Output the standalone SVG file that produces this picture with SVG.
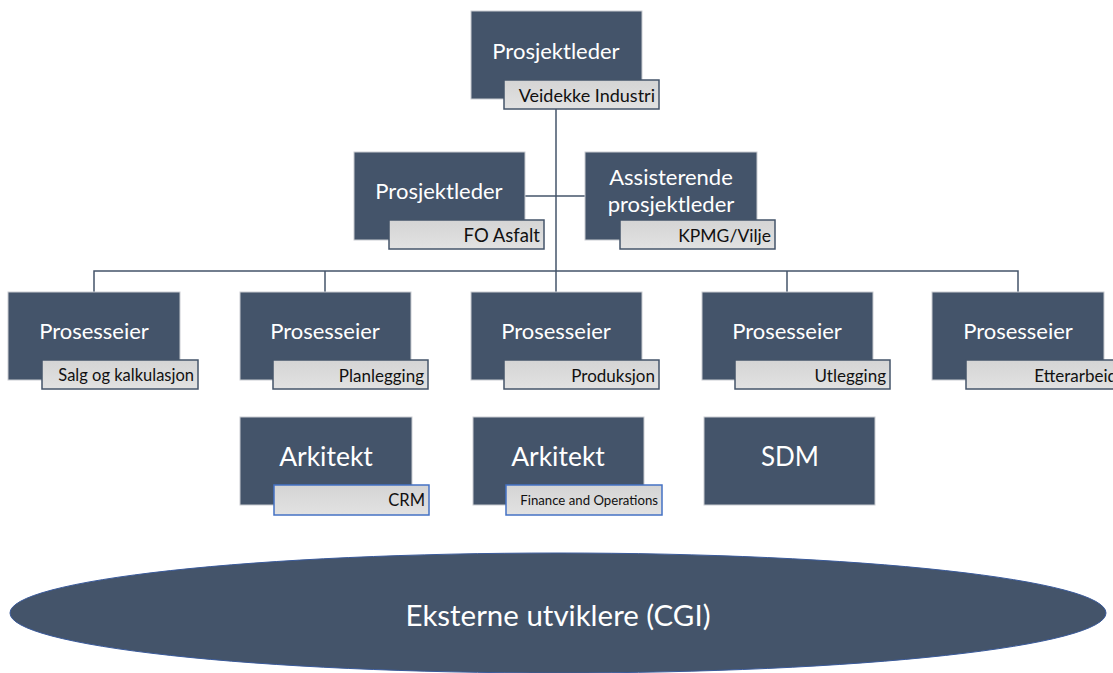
<svg xmlns="http://www.w3.org/2000/svg" width="1113" height="673" viewBox="0 0 1113 673">
<defs>
<linearGradient id="lg" x1="0" y1="0" x2="0" y2="1">
<stop offset="0" stop-color="#d4d4d4"/>
<stop offset="1" stop-color="#e2e2e2"/>
</linearGradient>
</defs>
<style>
.box{fill:#44546a;stroke:#c9ccd1;stroke-width:1}
.lab{fill:url(#lg);stroke:#44546a;stroke-width:1.5}
.labb{fill:url(#lg);stroke:#4472c4;stroke-width:1.5}
.t{font-family:Lato,"Open Sans",sans-serif;fill:#ffffff;text-anchor:middle;dominant-baseline:central}
.l{font-family:Lato,"Open Sans",sans-serif;fill:#111111;text-anchor:end;dominant-baseline:central}
.c{fill:none;stroke:#44546a;stroke-width:1.5}
</style>
<rect width="1113" height="673" fill="#ffffff"/>
<g id="connectors">
<path class="c" d="M556 109 V271"/>
<path class="c" d="M525 196 H585"/>
<path class="c" d="M94 292 V271 H1018 V292"/>
<path class="c" d="M325 271 V292"/>
<path class="c" d="M556 271 V292"/>
<path class="c" d="M787 271 V292"/>
</g>
<g id="n-top">
<rect class="box" x="471" y="11" width="171" height="88"/>
<text class="t" x="556" y="50" font-size="22">Prosjektleder</text>
<rect class="lab" x="504" y="80" width="155" height="29"/>
<text class="l" x="655" y="95" font-size="18">Veidekke Industri</text>
</g>
<g id="n-fo">
<rect class="box" x="354" y="152" width="171" height="88"/>
<text class="t" x="439" y="190" font-size="22">Prosjektleder</text>
<rect class="lab" x="389" y="220" width="155" height="29"/>
<text class="l" x="540" y="235" font-size="18.5">FO Asfalt</text>
</g>
<g id="n-ass">
<rect class="box" x="585" y="152" width="172" height="88"/>
<text class="t" x="671" y="176" font-size="22">Assisterende</text>
<text class="t" x="671" y="203" font-size="22">prosjektleder</text>
<rect class="lab" x="620" y="220" width="155" height="29"/>
<text class="l" x="771" y="235" font-size="17.5">KPMG/Vilje</text>
</g>
<g id="n-p1">
<rect class="box" x="8" y="292" width="172" height="88"/>
<text class="t" x="94" y="330" font-size="22">Prosesseier</text>
<rect class="lab" x="42" y="360" width="156" height="29"/>
<text class="l" x="194" y="375" font-size="16.5">Salg og kalkulasjon</text>
</g>
<g id="n-p2">
<rect class="box" x="240" y="292" width="171" height="88"/>
<text class="t" x="325" y="330" font-size="22">Prosesseier</text>
<rect class="lab" x="273" y="360" width="155" height="29"/>
<text class="l" x="424" y="375" font-size="17">Planlegging</text>
</g>
<g id="n-p3">
<rect class="box" x="471" y="292" width="171" height="88"/>
<text class="t" x="556" y="330" font-size="22">Prosesseier</text>
<rect class="lab" x="504" y="360" width="155" height="29"/>
<text class="l" x="655" y="375" font-size="17">Produksjon</text>
</g>
<g id="n-p4">
<rect class="box" x="702" y="292" width="171" height="88"/>
<text class="t" x="787" y="330" font-size="22">Prosesseier</text>
<rect class="lab" x="735" y="360" width="155" height="29"/>
<text class="l" x="886" y="375" font-size="17">Utlegging</text>
</g>
<g id="n-p5">
<rect class="box" x="932" y="292" width="172" height="88"/>
<text class="t" x="1018" y="330" font-size="22">Prosesseier</text>
<rect class="lab" x="966" y="360" width="155" height="29"/>
<text class="l" x="1117" y="375" font-size="17">Etterarbeid</text>
</g>
<g id="n-crm">
<rect class="box" x="240" y="417" width="172" height="88"/>
<text class="t" x="326" y="456" font-size="26.5">Arkitekt</text>
<rect class="labb" x="274" y="485" width="155" height="30"/>
<text class="l" x="425" y="500" font-size="16.5">CRM</text>
</g>
<g id="n-fin">
<rect class="box" x="473" y="417" width="171" height="88"/>
<text class="t" x="558" y="456" font-size="26.5">Arkitekt</text>
<rect class="labb" x="506" y="485" width="156" height="30"/>
<text class="l" x="658" y="500" font-size="13.2">Finance and Operations</text>
</g>
<g id="n-sdm">
<rect class="box" x="704" y="417" width="171" height="88"/>
<text class="t" x="790" y="456" font-size="26">SDM</text>
</g>
<g id="n-cgi">
<ellipse cx="558" cy="613" rx="548" ry="60" fill="#44546a" stroke="#3a5a9a" stroke-width="1"/>
<text class="t" x="558" y="615" font-size="28" textLength="305" lengthAdjust="spacingAndGlyphs">Eksterne utviklere (CGI)</text>
</g>
</svg>
